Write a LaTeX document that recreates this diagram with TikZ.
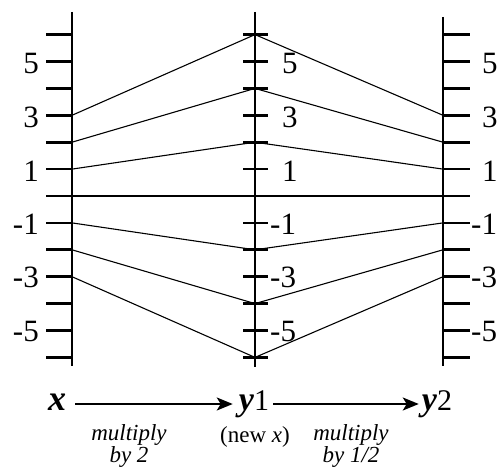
\documentclass[tikz,border=0pt]{standalone}
\usepackage{fontspec}
\setmainfont{Liberation Serif}
\usetikzlibrary{arrows.meta}
\begin{document}
\begin{tikzpicture}[x=1pt,y=-1pt,
  axisline/.style={line width=2.8pt},
  tickline/.style={line width=2.7pt},
  mapline/.style={line width=1.1pt},
  num/.style={font=\fontsize{31}{31}\selectfont, inner sep=0pt},
  varlabel/.style={inner sep=0pt, anchor=base},
  note/.style={font=\fontsize{23}{20}\selectfont, inner sep=0pt, align=center, anchor=base},
  arr/.style={line width=2.2pt, -{Stealth[length=16pt,width=13pt,inset=4pt]}}]
\useasboundingbox (0,0) rectangle (500,468);
% tick coordinates: index i = value + 6
\foreach \i in {0,...,12} {
  \coordinate (L\i) at (72,{196-26.9*(\i-6)});
  \coordinate (M\i) at (255,{196-26.9*(\i-6)});
  \coordinate (R\i) at (443,{196-26.9*(\i-6)});
}
% axes
\coordinate (Ltop) at (72,12);  \coordinate (Lbot) at (72,366);
\coordinate (Mtop) at (255,12); \coordinate (Mbot) at (255,367);
\coordinate (Rtop) at (443,17); \coordinate (Rbot) at (443,366);
\draw[axisline] (Ltop) -- (Lbot);
\draw[axisline] (Mtop) -- (Mbot);
\draw[axisline] (Rtop) -- (Rbot);
% ticks
\foreach \i in {0,...,12} {
  \draw[tickline] ([xshift=-26pt]L\i) -- (L\i);
  \draw[tickline] ([xshift=-12pt]M\i) -- ([xshift=13pt]M\i);
  \draw[tickline] (R\i) -- ([xshift=27pt]R\i);
}
% labels
\foreach \v in {5,3,1} {
  \pgfmathtruncatemacro{\i}{\v+6}
  \node[num, anchor=east] at ([xshift=-33pt,yshift=-2pt]L\i) {\v};
  \node[num, anchor=west] at ([xshift=27pt,yshift=-2pt]M\i) {\v};
  \node[num, anchor=west] at ([xshift=39pt,yshift=-2pt]R\i) {\v};
}
\foreach \v in {1,3,5} {
  \pgfmathtruncatemacro{\i}{6-\v}
  \node[num, anchor=east] at ([xshift=-33pt,yshift=-1pt]L\i) {-\v};
  \node[num, anchor=west] at ([xshift=15pt,yshift=-1pt]M\i) {-\v};
  \node[num, anchor=west] at ([xshift=28pt,yshift=-1pt]R\i) {-\v};
}
% mapping lines
\foreach \k in {-3,...,3} {
  \pgfmathtruncatemacro{\a}{\k+6}
  \pgfmathtruncatemacro{\b}{2*\k+6}
  \draw[mapline] (L\a) -- (M\b);
  \draw[mapline] (M\b) -- (R\a);
}
% bottom row
\node[varlabel] (x) at (57,410) {\fontsize{36}{36}\selectfont\bfseries\itshape x};
\node[varlabel] (y1) at (254,410) {\fontsize{34}{34}\selectfont{\bfseries\itshape y}\fontsize{30}{30}\selectfont 1};
\node[varlabel] (y2) at (437,410) {\fontsize{34}{34}\selectfont{\bfseries\itshape y}\fontsize{30}{30}\selectfont 2};
\draw[arr, shorten <=9pt, shorten >=6pt] ([yshift=6pt]x.base east) -- ([yshift=6pt]y1.base west);
\draw[arr, shorten <=4pt, shorten >=3pt] ([yshift=6pt]y1.base east) -- ([yshift=6pt]y2.base west);
\node[note] (n1) at (129,462) {\itshape multiply\\\itshape by 2};
\node[note] (n2) at (255,442) {(new \textit{x})};
\node[note] (n3) at (351,462) {\itshape multiply\\\itshape by 1/2};
\end{tikzpicture}
\end{document}
